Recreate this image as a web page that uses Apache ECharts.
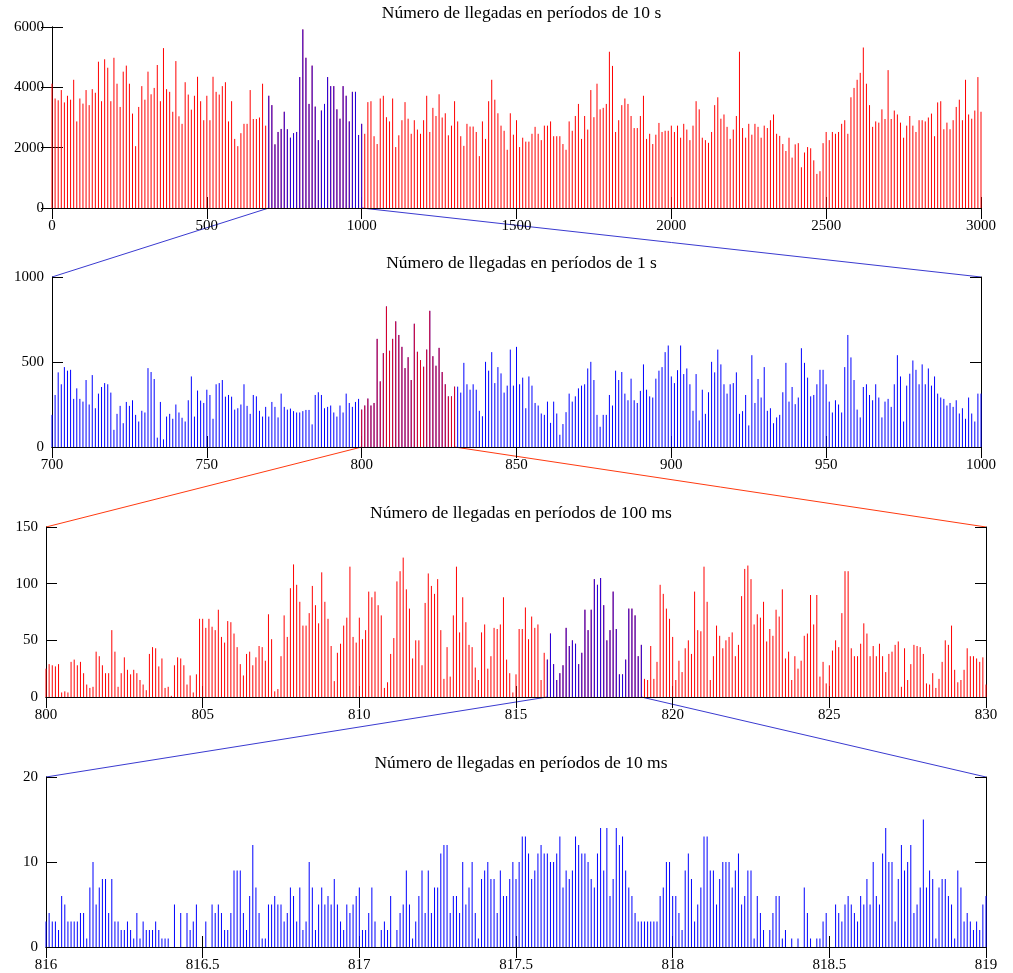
<!DOCTYPE html>
<html>
<head>
<meta charset="utf-8">
<script src="https://cdn.jsdelivr.net/npm/echarts@6/dist/echarts.min.js"></script>
<style>
  html, body { margin: 0; padding: 0; background: #fff; }
  #chart { width: 1013px; height: 973px; }
</style>
</head>
<body>
<div id="chart"></div>
<script>
// 1. datos (llegadas por intervalo)
var llegadas10s = [
  4120, 3630, 3570, 3910, 3500, 3720, 3590, 4250, 2870, 3630,
  3460, 3910, 3410, 3940, 3820, 4850, 3540, 4930, 4650, 3540,
  4980, 4120, 3350, 4520, 4720, 4120, 3130, 2050, 3350, 4040,
  3590, 4520, 3770, 3980, 4740, 3540, 5300, 3940, 3850, 3190,
  4870, 3040, 2790, 4170, 3760, 3260, 3720, 4350, 3540, 2910,
  3720, 2910, 4350, 3850, 3760, 4040, 4170, 2870, 3540, 2290,
  2050, 2480, 2790, 2790, 3910, 2950, 2950, 3000, 4120, 2730,
  3720, 3410, 2110, 2520, 2620, 3190, 2610, 2330, 2480, 2520,
  4340, 5920, 4980, 3450, 4720, 3360, 2250, 3230, 3450, 4340,
  4040, 4040, 3270, 2960, 4040, 3720, 2870, 3850, 3850, 2420,
  2790,
  2460, 3510, 3540, 2380, 2120, 3630, 3720, 3010, 2870, 3630,
  2020, 2410, 2910, 3510, 2960, 2460, 2910, 2600, 2460, 2910,
  3720, 2520, 3320, 3050, 3770, 3000, 3140, 2410, 2730, 3540,
  2870, 2380, 2060, 2790, 2700, 2700, 2520, 1720, 2870, 2290,
  3540, 4250, 3590, 3140, 2730, 2560, 1930, 3140, 2430, 2910,
  2020, 2330, 2200, 2200, 2460, 2690, 2460, 2250, 2730, 2730,
  2870, 2380, 2380, 2380, 2120, 1930, 2870, 2560, 3050, 3450,
  2290, 3050, 2600, 3910, 3010, 4120, 3270, 3320, 3450, 5180,
  4710, 2520, 2910, 3410, 3630, 3450, 3050, 2650, 2650, 3050,
  3720, 2290, 2460, 2120, 2430, 2820, 2520, 2560, 2560,
  2730, 2520, 2730, 2330, 2790, 2600, 2250, 2730, 3540, 3270,
  2330, 2250, 2160, 2520, 3410, 3670, 2960, 3100, 2690, 2290,
  2600, 3050, 5180, 2650, 2330, 2790, 2430, 2790, 2690, 2330,
  2730, 2650, 2910, 3100, 2460, 2390, 2120, 1890, 2330, 1670,
  2110, 2150, 1350, 1840, 2020, 1980, 1580, 1130, 1220, 2150,
  2520, 2250, 2520, 2460, 2520, 2790, 2910, 2460, 3670, 3980,
  4250, 4480, 5320, 4120, 3410, 2690, 2870, 2830, 3270, 2950,
  4570, 2950, 3230, 3100, 2830, 2330, 2730, 3050, 2730, 2520,
  2910, 2910, 2870, 3000, 3130, 2380, 3500, 3540, 2610, 2830,
  2610, 2910, 3350, 3590, 2910, 4250, 3100, 2960, 3230, 4340,
  3190
];

var llegadas1s = [
  189, 306, 439, 369, 470, 449, 454, 283, 345, 283,
  267, 394, 250, 423, 228, 314, 353, 376, 369, 320,
  101, 195, 242, 140, 265, 242, 275, 189, 150, 213,
  203, 464, 441, 400, 55, 265, 45, 179, 195, 166,
  250, 203, 172, 150, 275, 415, 179, 332, 273, 259,
  337, 306, 166, 369, 376, 394, 296, 306, 296, 220,
  228, 250, 369, 242, 195, 306, 298, 213, 179, 236,
  179, 265, 236, 174, 314, 236, 220, 226, 211, 203,
  203, 211, 218, 218, 133, 306, 322, 306, 228, 236,
  244, 203, 179, 244, 203, 314, 259, 236, 265, 283,
  220, 244, 285, 244, 259, 636, 386, 552, 827, 566,
  636, 739, 659, 589, 464, 528, 394, 725, 560, 511,
  472, 573, 801, 534, 478, 583, 441, 369, 298, 298,
  355,
  355, 320, 495, 369, 337, 369, 337, 213, 181, 501,
  449, 558, 376, 470, 433, 320, 361, 573, 361, 589,
  369, 408, 228, 415, 361, 259, 244, 197, 189, 267,
  142, 267, 197, 72, 135, 205, 314, 267, 298, 345,
  361, 369, 462, 501, 394, 189, 119, 189, 189, 306,
  244, 449, 394, 441, 314, 275, 402, 275, 259, 330,
  486, 337, 298, 291, 402, 449, 470, 558, 597,
  415, 376, 452, 597, 429, 462, 369, 213, 429, 156,
  337, 195, 322, 501, 439, 573, 486, 369, 314, 369,
  376, 439, 195, 211, 306, 127, 540, 259, 400, 291,
  470, 213, 228, 140, 174, 189, 322, 495, 267, 353,
  252, 291, 581, 495, 408, 298, 306, 369, 454, 454,
  369, 267, 203, 275, 250, 203, 470, 659, 527, 394,
  220, 174, 353, 369, 306, 275, 369, 291, 174, 267,
  283, 236, 369, 540, 415, 150, 361, 431, 509, 454,
  369, 486, 369, 462, 361, 415, 314, 291, 283, 244,
  259, 236, 275, 197, 228, 166, 291, 197, 150, 314,
  314
];

var llegadas100ms = [
  25, 29, 28, 27, 29, 4, 5, 4, 31, 33,
  28, 31, 21, 11, 8, 9, 40, 36, 28, 21,
  21, 59, 40, 9, 21, 35, 24, 20, 24, 21,
  15, 11, 6, 38, 44, 43, 27, 34, 8, 9,
  1, 28, 35, 34, 28, 11, 19, 4, 20, 69,
  69, 61, 69, 62, 59, 77, 53, 48, 67, 66,
  56, 44, 29, 19, 38, 40, 28, 35, 45, 44,
  32, 73, 51, 5, 7, 36, 72, 53, 96, 117,
  99, 84, 63, 63, 74, 98, 81, 65, 110, 84,
  69, 45, 14, 39, 47, 63, 70, 115, 53, 48,
  70,
  51, 59, 93, 88, 93, 81, 72, 8, 13, 38,
  52, 102, 111, 123, 95, 78, 34, 50, 50, 28,
  83, 109, 98, 91, 104, 59, 16, 44, 18, 72,
  115, 57, 88, 66, 46, 44, 26, 15, 57, 64,
  25, 36, 61, 60, 64, 88, 33, 21, 4, 20,
  60, 60, 79, 51, 71, 61, 64, 15, 39, 33,
  56, 29, 15, 21, 28, 61, 45, 50, 47, 29,
  39, 77, 59, 77, 104, 99, 105, 81, 50, 59,
  93, 60, 20, 20, 33, 78, 78, 72, 36, 46,
  16, 15, 45, 16, 31, 99, 91, 78, 69, 53,
  15, 32, 22, 43, 50, 38, 93, 59, 58, 115,
  84, 15, 36, 63, 54, 43, 50, 53, 57, 36,
  46, 89, 113, 116, 104, 64, 73, 70, 84, 49,
  60, 54, 77, 71, 95, 34, 40, 15, 36, 25,
  32, 54, 56, 90, 64, 90, 18, 31, 12, 28,
  41, 50, 44, 74, 111, 111, 43, 36, 36, 47,
  65, 56, 36, 45, 36, 47, 36, 22, 38, 40,
  46, 49, 9, 43, 15, 29, 46, 45, 44, 38,
  12, 11, 21, 8, 16, 31, 50, 46, 63, 24,
  13, 15, 24, 43, 36, 36, 34, 31, 35, 11
];

var llegadas10ms = [
  3, 4, 3, 3, 2, 6, 5, 3, 3, 3,
  3, 4, 4, 1, 7, 10, 5, 7, 8, 8,
  4, 8, 3, 3, 2, 2, 3, 2, 1, 4,
  1, 3, 2, 2, 2, 3, 2, 1, 1, 1,
  0, 5, 0, 4, 0, 4, 2, 3, 5, 0,
  0, 3, 0, 5, 4, 5, 4, 2, 2, 4,
  9, 9, 9, 4, 2, 6, 12, 7, 4, 1,
  1, 5, 5, 6, 5, 5, 3, 4, 7, 6,
  3, 7, 2, 3, 10, 7, 2, 5, 7, 5,
  6, 5, 8, 5, 3, 2, 5, 4, 5, 6,
  7,
  2, 2, 4, 7, 3, 0, 2, 3, 2, 6,
  0, 2, 4, 5, 9, 5, 1, 3, 6, 9,
  4, 9, 4, 7, 7, 11, 12, 12, 4, 6,
  6, 4, 10, 5, 7, 10, 4, 1, 8, 9,
  10, 8, 8, 4, 9, 6, 6, 8, 10, 8,
  10, 13, 13, 11, 8, 9, 11, 12, 11, 11,
  10, 10, 11, 13, 7, 9, 8, 9, 13, 12,
  11, 11, 10, 8, 7, 11, 14, 9, 14, 6,
  8, 14, 12, 13, 9, 7, 6, 4, 3, 3,
  3, 3, 3, 3, 3, 6, 7, 10, 10, 6,
  6, 4, 2, 9, 11, 8, 3, 5, 7,
  13, 13, 9, 9, 5, 8, 10, 10, 10, 7,
  9, 11, 5, 6, 9, 9, 1, 6, 4, 2,
  0, 2, 4, 6, 6, 1, 2, 0, 1, 0,
  1, 0, 7, 4, 1, 0, 1, 1, 3, 4,
  0, 0, 5, 4, 3, 5, 6, 5, 4, 3,
  6, 5, 8, 5, 10, 6, 5, 11, 14, 10,
  10, 3, 8, 12, 9, 10, 12, 4, 5, 7,
  15, 7, 9, 8, 1, 7, 8, 8, 6, 5,
  1, 9, 7, 3, 4, 3, 2, 3, 2, 5,
  6
];

var titulos = [
  'Número de llegadas en períodos de 10 s',
  'Número de llegadas en períodos de 1 s',
  'Número de llegadas en períodos de 100 ms',
  'Número de llegadas en períodos de 10 ms'
];

var ROJO = '#ff0000';
var AZUL = '#0000ff';

// 2. configuracion de cada panel
var paneles = [
  { datos: llegadas10s, inicio: 0, paso: 10, xMin: 0, xMax: 3000, xInt: 500, yMax: 6000, yInt: 2000,
    color: ROJO, zoom: [700, 1000], colorZoom: AZUL,
    grid: { left: 52, right: 32, top: 27, height: 181 } },
  { datos: llegadas1s, inicio: 700, paso: 1, xMin: 700, xMax: 1000, xInt: 50, yMax: 1000, yInt: 500,
    color: AZUL, zoom: [800, 830], colorZoom: ROJO,
    grid: { left: 52, right: 32, top: 277, height: 170 } },
  { datos: llegadas100ms, inicio: 800, paso: 0.1, xMin: 800, xMax: 830, xInt: 5, yMax: 150, yInt: 50,
    color: ROJO, zoom: [816, 819], colorZoom: AZUL,
    grid: { left: 46, right: 27, top: 527, height: 170 } },
  { datos: llegadas10ms, inicio: 816, paso: 0.01, xMin: 816, xMax: 819, xInt: 0.5, yMax: 20, yInt: 10,
    color: AZUL, zoom: null, colorZoom: null,
    grid: { left: 46, right: 27, top: 777, height: 170 } }
];

var enlaces = [
  { de: 0, a: 1, color: '#3a3ad0' },
  { de: 1, a: 2, color: '#ff3a10' },
  { de: 2, a: 3, color: '#3a3ad0' }
];

var fuente = 'Liberation Serif, Times New Roman, serif';

function puntos(p) {
  return p.datos.map(function (v, i) {
    return [+(p.inicio + i * p.paso).toFixed(3), v];
  });
}

function tallo(color, opacidad) {
  return function (params, api) {
    var base = api.coord([api.value(0), 0]);
    var tope = api.coord([api.value(0), api.value(1)]);
    return {
      type: 'line',
      shape: { x1: base[0], y1: base[1], x2: tope[0], y2: tope[1] },
      style: { stroke: color, lineWidth: 1, opacity: opacidad }
    };
  };
}

function sinComas(v) {
  return String(v);
}

var chart = echarts.init(document.getElementById('chart'), null, { renderer: 'canvas' });

var grids = [], xAxes = [], yAxes = [], series = [], titles = [];
var lineaEje = { show: true, lineStyle: { color: '#000', width: 1 } };
var marca = { show: true, inside: true, length: 11, lineStyle: { color: '#000' } };
var etiqueta = { color: '#000', fontFamily: fuente, fontSize: 15, formatter: sinComas };

paneles.forEach(function (p, i) {
  grids.push(p.grid);
  xAxes[i] = {
    type: 'value', gridIndex: i, min: p.xMin, max: p.xMax, interval: p.xInt,
    axisLine: lineaEje, axisTick: marca, splitLine: { show: false },
    axisLabel: Object.assign({ margin: 11 }, etiqueta)
  };
  xAxes[i + 4] = {
    type: 'value', gridIndex: i, position: 'top', min: p.xMin, max: p.xMax, interval: p.xInt,
    axisLine: lineaEje, axisTick: marca, splitLine: { show: false }, axisLabel: { show: false }
  };
  yAxes[i] = {
    type: 'value', gridIndex: i, min: 0, max: p.yMax, interval: p.yInt,
    axisLine: lineaEje, axisTick: marca, splitLine: { show: false },
    axisLabel: Object.assign({ margin: 8 }, etiqueta)
  };
  yAxes[i + 4] = {
    type: 'value', gridIndex: i, position: 'right', min: 0, max: p.yMax, interval: p.yInt,
    axisLine: lineaEje, axisTick: marca, splitLine: { show: false }, axisLabel: { show: false }
  };

  var todos = puntos(p);
  series.push({
    type: 'custom', xAxisIndex: i, yAxisIndex: i, data: todos,
    encode: { x: 0, y: 1 }, renderItem: tallo(p.color, 1), clip: false, silent: true
  });
  if (p.zoom) {
    series.push({
      type: 'custom', xAxisIndex: i, yAxisIndex: i,
      data: todos.filter(function (d) { return d[0] >= p.zoom[0] - 1e-6 && d[0] <= p.zoom[1] + 1e-6; }),
      encode: { x: 0, y: 1 }, renderItem: tallo(p.colorZoom, 0.88), clip: false, silent: true
    });
  }

  var centro = p.grid.left + (1013 - p.grid.left - p.grid.right) / 2;
  titles.push({
    text: titulos[i], left: centro, top: p.grid.top - 28, textAlign: 'center',
    textStyle: { fontFamily: fuente, fontSize: 17.5, fontWeight: 'normal', color: '#000' }
  });
});

chart.setOption({
  animation: false,
  backgroundColor: '#fff',
  title: titles,
  grid: grids,
  xAxis: xAxes,
  yAxis: yAxes,
  series: series
});

// 3. lineas que unen la zona ampliada con el panel siguiente
var lineas = [];
enlaces.forEach(function (e) {
  var p = paneles[e.de], q = paneles[e.a];
  var f1 = { xAxisIndex: e.de, yAxisIndex: e.de };
  var f2 = { xAxisIndex: e.a, yAxisIndex: e.a };
  var a0 = chart.convertToPixel(f1, [p.zoom[0], 0]);
  var a1 = chart.convertToPixel(f1, [p.zoom[1], 0]);
  var b0 = chart.convertToPixel(f2, [q.xMin, q.yMax]);
  var b1 = chart.convertToPixel(f2, [q.xMax, q.yMax]);
  [[a0, b0], [a1, b1]].forEach(function (s) {
    lineas.push({
      type: 'line', silent: true,
      shape: { x1: s[0][0], y1: s[0][1], x2: s[1][0], y2: s[1][1] },
      style: { stroke: e.color, lineWidth: 1 }
    });
  });
});
chart.setOption({ graphic: lineas });
</script>
</body>
</html>
